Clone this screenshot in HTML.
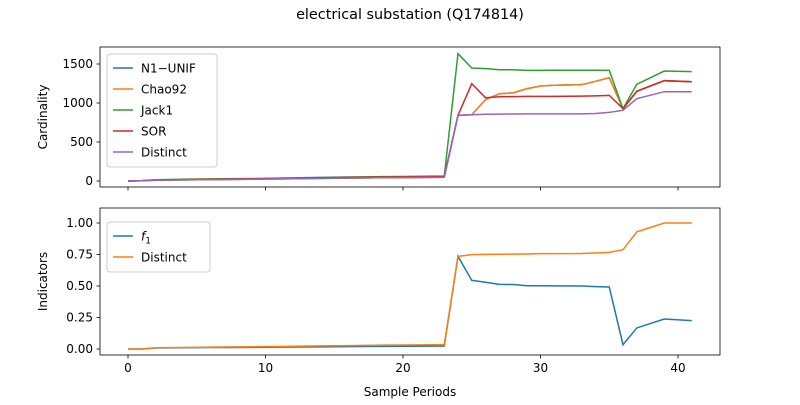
<!DOCTYPE html>
<html><head><meta charset="utf-8"><style>
body{margin:0;background:#fff;font-family:"Liberation Sans","DejaVu Sans",sans-serif}
svg text{font-family:"DejaVu Sans","Liberation Sans",sans-serif;font-size:12px;fill:#000}
</style></head><body>
<svg id="c" width="800" height="400" xmlns="http://www.w3.org/2000/svg"></svg>
<script>
const xs=[0,1,2,4,6,8,10,12,14,16,18,20,22,23,24,25,26,27,28,29,30,31,33,34,35,36,37,39,41];
const n1unif=[0,3,10,14,18,21,25,29,33,37,41,44,47,48,842,850,1042,1119,1130,1183,1218,1228,1235,1278,1324,927,1150,1286,1273];
const chao92=[0,3,10,14,18,21,25,29,33,37,41,44,47,48,842,850,1042,1119,1130,1183,1218,1228,1235,1278,1324,927,1150,1286,1273];
const jack1=[0,5,16,22,27,30,34,40,46,51,55,58,62,62,1632,1449,1440,1427,1427,1419,1419,1420,1420,1420,1419,927,1239,1410,1402];
const sor=[0,4,13,18,23,26,30,35,40,45,49,52,55,55,842,1248,1068,1080,1082,1085,1085,1085,1088,1092,1098,927,1150,1286,1273];
const distinct=[0,3,10,14,18,21,25,29,33,37,41,44,47,48,842,850,856,858,859,860,860,860,861,866,880,906,1055,1145,1145];
const f1=[0,0,0.008,0.01,0.012,0.012,0.014,0.016,0.017,0.019,0.021,0.022,0.023,0.024,0.735,0.545,0.53,0.513,0.512,0.502,0.502,0.501,0.5,0.495,0.492,0.034,0.167,0.238,0.225];
const distinctInd=[0,0,0.01,0.012,0.015,0.017,0.019,0.022,0.025,0.027,0.03,0.032,0.034,0.035,0.735,0.749,0.751,0.752,0.753,0.754,0.757,0.757,0.758,0.762,0.767,0.788,0.929,1.0,1.0];
const xTicks=[0,10,20,30,40];
const yTicksTop=[0,500,1000,1500];
const yTicksBot=[0,0.25,0.5,0.75,1.0];
const yTicksBotLabels=["0.00","0.25","0.50","0.75","1.00"];

const svg=document.getElementById('c');const NS='http://www.w3.org/2000/svg';
function mk(t,a,p){const e=document.createElementNS(NS,t);for(const k in a)e.setAttribute(k,a[k]);(p||svg).appendChild(e);return e;}
const X=v=>128+v*13.75;
const Yt=v=>181-v*0.078;
const Yb=v=>349-v*126;

function axes(top,bot,name,Y,ticks,labels,ylabel,showX){
  const g=mk('g',{});
  
  
  mk('rect',{x:100,y:top,width:620,height:bot-top,fill:'none',stroke:'#000','stroke-width':0.8},g);
  xTicks.forEach(t=>{mk('line',{x1:X(t),x2:X(t),y1:bot,y2:bot+3.5,stroke:'#000','stroke-width':0.8},g);
    if(showX){const tx=mk('text',{x:X(t),y:bot+17,'text-anchor':'middle'},g);tx.textContent=t;
      
      }});
  ticks.forEach((t,i)=>{mk('line',{x1:96.5,x2:100,y1:Y(t),y2:Y(t),stroke:'#000','stroke-width':0.8},g);
    const tx=mk('text',{x:93,y:Y(t)+4,'text-anchor':'end'},g);tx.textContent=labels[i];
    
    });
  const yl=mk('text',{x:0,y:0,'text-anchor':'middle',transform:`translate(47,${(top+bot)/2}) rotate(-90)`},g);yl.textContent=ylabel;
  
  
  return g;
}
function line(vals,Y,color,name){
  const p=mk('polyline',{points:xs.map((x,i)=>X(x)+','+Y(vals[i])).join(' '),fill:'none',stroke:color,'stroke-width':1.5});
  
  
}
function legend(x,y,w,items){
  const g=mk('g',{});
  
  
  mk('rect',{x:x,y:y,width:w,height:items.length*21+8,fill:'#fff',stroke:'#ccc',rx:3},g);
  items.forEach((it,i)=>{const cy=y+14+i*21;
    mk('line',{x1:x+6,x2:x+26,y1:cy,y2:cy,stroke:it[1],'stroke-width':1.5},g);
    const t=mk('text',{x:x+34,y:cy+4.5},g);t.innerHTML=it[0];
    
    });
}
const title=mk('text',{x:410,y:19,'text-anchor':'middle',style:'font-size:14.4px'});title.textContent='electrical substation (Q174814)';


axes(47,187,'top-axes',Yt,yTicksTop,yTicksTop.map(String),'Cardinality',false);
axes(208,355,'bottom-axes',Yb,yTicksBot,yTicksBotLabels,'Indicators',true);
line(n1unif,Yt,'#1f77b4','series-n1-unif');
line(chao92,Yt,'#ff7f0e','series-chao92');
line(jack1,Yt,'#2ca02c','series-jack1');
line(sor,Yt,'#d62728','series-sor');
line(distinct,Yt,'#9467bd','series-distinct');
line(f1,Yb,'#1f77b4','series-f1');
line(distinctInd,Yb,'#ff7f0e','series-distinct-indicator');
legend(107,54,110,[['N1−UNIF','#1f77b4'],['Chao92','#ff7f0e'],['Jack1','#2ca02c'],['SOR','#d62728'],['Distinct','#9467bd']]);
legend(107,222,103,[['<tspan font-style="italic">f</tspan><tspan dy="3" font-size="9">1</tspan>','#1f77b4'],['Distinct','#ff7f0e']]);
const xl=mk('text',{x:410,y:396,'text-anchor':'middle'});xl.textContent='Sample Periods';


</script>
</body></html>
